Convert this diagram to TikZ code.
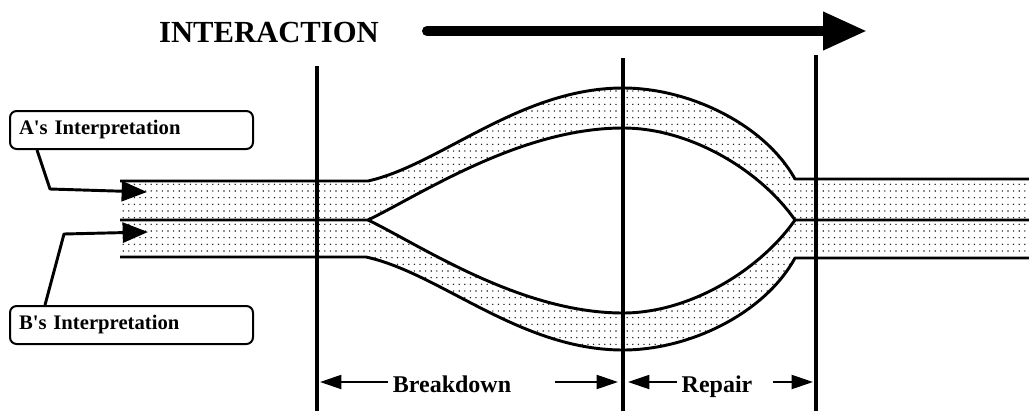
\documentclass[tikz,border=0pt]{standalone}
\usepackage{fontspec}
\setmainfont{Liberation Serif}
\newfontfamily\boxfont{Liberation Serif}
\usetikzlibrary{arrows.meta,patterns,calc}
\pgfdeclarepatternformonly{finedots}{\pgfpoint{-1pt}{-1pt}}{\pgfpoint{1pt}{1pt}}{\pgfpoint{4.2pt}{5pt}}{\pgfpathcircle{\pgfpointorigin}{0.6pt}\pgfusepath{fill}}
\begin{document}
\begin{tikzpicture}[x=0.75pt,y=-0.75pt,
  band/.style={line width=2.2pt, line join=round},
  divider/.style={line width=3.4pt},
  dotfill/.style={pattern=finedots, pattern color=black!85},
  labelbox/.style={draw, line width=1.5pt, rounded corners=5pt, anchor=north west,
    inner xsep=6.75pt, inner ysep=0pt, text width=168.75pt, minimum height=28.5pt,
    font=\boxfont\fontsize{15.5}{18}\selectfont\bfseries, align=left},
  leader/.style={line width=2.2pt, line join=round, -{Triangle[length=19pt,width=15pt]}},
  dim/.style={line width=1.5pt, -{Triangle[length=16pt,width=10.5pt]}},
  dimtext/.style={anchor=base, inner sep=0pt, font=\fontsize{18}{21}\selectfont\bfseries},
  bigarrow/.style={line width=7.5pt, line cap=round, -{Triangle[length=33pt,width=27pt]}}
]
\useasboundingbox (0,0) rectangle (1029,411);

% dotted bands
\fill[dotfill]
 (120,181) -- (368,181) .. controls (440,165) and (520,88) .. (623,88)
 .. controls (690,88) and (765,125) .. (795,179) -- (1029,179) -- (1029,220) -- (795,220)
 .. controls (760,170) and (690,128) .. (623,128)
 .. controls (520,128) and (420,195) .. (368,220) -- (120,220) -- cycle;
\fill[dotfill]
 (120,257) -- (366,257) .. controls (440,273) and (520,350) .. (623,350)
 .. controls (690,350) and (765,313) .. (795,258) -- (1029,258) -- (1029,220) -- (795,220)
 .. controls (760,270) and (690,313) .. (623,313)
 .. controls (520,313) and (420,245) .. (368,220) -- (120,220) -- cycle;

% band outlines
\draw[band] (120,181) -- (368,181) .. controls (440,165) and (520,88) .. (623,88)
 .. controls (690,88) and (765,125) .. (795,179) -- (1029,179);
\draw[band] (120,220) -- (368,220) .. controls (420,195) and (520,128) .. (623,128)
 .. controls (690,128) and (760,170) .. (795,220) -- (1029,220);
\draw[band] (368,220) .. controls (420,245) and (520,313) .. (623,313)
 .. controls (690,313) and (760,270) .. (795,220);
\draw[band] (120,257) -- (366,257) .. controls (440,273) and (520,350) .. (623,350)
 .. controls (690,350) and (765,313) .. (795,258) -- (1029,258);

% vertical dividers
\coordinate (v1t) at (317,66);  \coordinate (v1b) at (317,411);
\coordinate (v2t) at (623,58);  \coordinate (v2b) at (623,411);
\coordinate (v3t) at (816,55);  \coordinate (v3b) at (816,411);
\draw[divider] (v1t) -- (v1b);
\draw[divider] (v2t) -- (v2b);
\draw[divider] (v3t) -- (v3b);

% title and big arrow
\node[anchor=base, inner sep=0pt, font=\fontsize{23}{27}\selectfont\bfseries] (title) at (269,42) {INTERACTION};
\coordinate (arrs) at (427,31);
\coordinate (arre) at (867,31);
\draw[bigarrow] (arrs) -- (arre);

% interpretation labels
\node[labelbox] (A) at (9,110) {A's Interpretation};
\node[labelbox] (B) at (9,305) {B's Interpretation};
\coordinate (atip) at (147,192);
\coordinate (btip) at (148,232);
\draw[leader] ($(A.south west)+(28,0)$) -- (50,189) -- (atip);
\draw[leader] ($(B.north west)+(36,0)$) -- (64,234) -- (btip);

% dimension labels
\node[dimtext] (bd) at (452,392) {Breakdown};
\node[dimtext] (rp) at (717,392) {Repair};
\coordinate (bdl) at (388,382); \coordinate (bdlt) at (320,382);
\coordinate (bdr) at (555,382); \coordinate (bdrt) at (618,382);
\coordinate (rpl) at (677,382); \coordinate (rplt) at (628,382);
\coordinate (rpr) at (773,382); \coordinate (rprt) at (813,382);
\draw[dim] (bdl) -- (bdlt);
\draw[dim] (bdr) -- (bdrt);
\draw[dim] (rpl) -- (rplt);
\draw[dim] (rpr) -- (rprt);
\end{tikzpicture}
\end{document}
